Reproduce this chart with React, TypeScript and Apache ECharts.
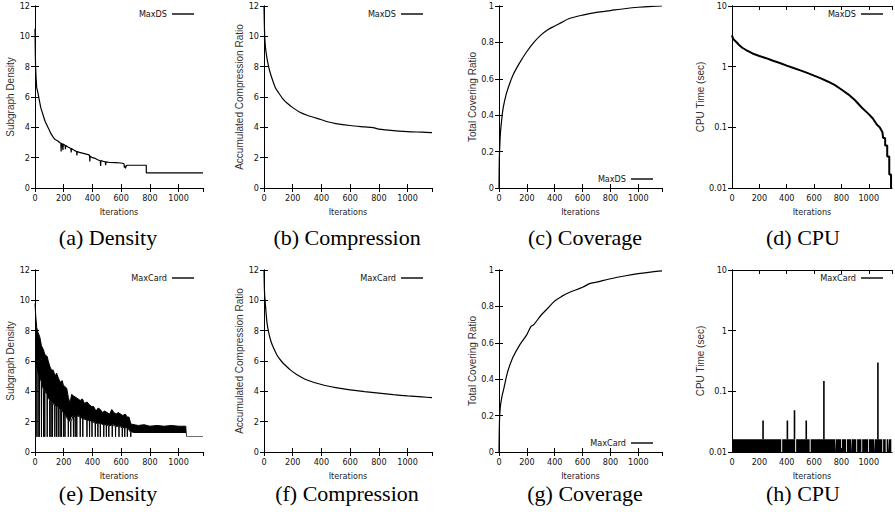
import React, { useEffect, useRef } from 'react';
import * as echarts from 'echarts';

const W = 895;
const H = 515;
const X_MAX = 1170;
const NARROW = '"Liberation Sans Narrow", "DejaVu Sans Condensed", "Liberation Sans", sans-serif';
const SANS = '"Liberation Sans", Arial, sans-serif';
const SERIF = '"Liberation Serif", "Times New Roman", serif';

// ---------- data ----------
const captions = ['(a) Density', '(b) Compression', '(c) Coverage', '(d) CPU', '(e) Density', '(f) Compression', '(g) Coverage', '(h) CPU'];
const yNames = ['Subgraph Density', 'Accumulated Compression Ratio', 'Total Covering Ratio', 'CPU Time (sec)'];
const xName = 'Iterations';
const seriesNames = ['MaxDS', 'MaxCard'];

// (a) density, MaxDS
const densityDS: number[][] = [
  [0, 10.5], [2, 9], [4, 8], [8, 7.2], [12, 6.6], [20, 6.3], [30, 5.8], [40, 5.3], [50, 5.0], [60, 4.7],
  [70, 4.4], [80, 4.2], [90, 4.0], [100, 3.8], [110, 3.6], [120, 3.45], [130, 3.3], [140, 3.2], [150, 3.15],
  [160, 3.1], [170, 3.0], [180, 2.95], [182, 2.4], [184, 2.95], [190, 2.9], [195, 2.5], [197, 2.9], [210, 2.8],
  [212, 2.55], [214, 2.8], [230, 2.7], [250, 2.6], [252, 2.35], [254, 2.6], [270, 2.5], [290, 2.4], [292, 2.15],
  [294, 2.4], [310, 2.35], [330, 2.3], [350, 2.25], [370, 2.2], [380, 2.15], [382, 1.75], [384, 2.1], [400, 2.0],
  [420, 1.95], [440, 1.85], [455, 1.8], [457, 1.45], [459, 1.8], [480, 1.75], [490, 1.72], [492, 1.5], [494, 1.72],
  [520, 1.68], [560, 1.67], [600, 1.65], [620, 1.6], [622, 1.35], [625, 1.45], [630, 1.3], [635, 1.45], [640, 1.5],
  [775, 1.5], [775, 1.0], [1170, 1.0],
];

// (b) compression, MaxDS
const compressionDS: number[][] = [
  [0, 12], [2, 11], [5, 10], [10, 9.3], [20, 8.6], [30, 8.1], [40, 7.7], [60, 7.1], [80, 6.6], [100, 6.3],
  [130, 5.9], [160, 5.6], [200, 5.3], [250, 5.0], [300, 4.8], [350, 4.65], [400, 4.5], [450, 4.35], [500, 4.25],
  [600, 4.12], [700, 4.03], [760, 3.98], [800, 3.88], [900, 3.78], [1000, 3.72], [1100, 3.68], [1170, 3.65],
];

// (c) coverage, MaxDS
const coverageDS: number[][] = [
  [0, 0], [2, 0.15], [5, 0.22], [10, 0.3], [20, 0.38], [30, 0.44], [50, 0.51], [75, 0.57], [100, 0.62],
  [150, 0.69], [200, 0.75], [250, 0.8], [300, 0.84], [350, 0.87], [400, 0.89], [450, 0.91], [500, 0.93],
  [600, 0.95], [700, 0.965], [800, 0.975], [900, 0.985], [1000, 0.993], [1100, 0.998], [1170, 1.0],
];

// (d) cpu, MaxDS
const cpuDS: number[][] = [
  [0, 3.3], [5, 3.0], [10, 2.85], [20, 2.7], [35, 2.5], [50, 2.3], [75, 2.05], [100, 1.9], [150, 1.65],
  [200, 1.5], [250, 1.38], [300, 1.25], [350, 1.15], [400, 1.04], [450, 0.95], [500, 0.87], [550, 0.79],
  [600, 0.71], [650, 0.64], [700, 0.57], [750, 0.5], [800, 0.42], [850, 0.35], [900, 0.28], [950, 0.21],
  [1000, 0.165], [1030, 0.14], [1060, 0.11], [1080, 0.1], [1100, 0.083], [1105, 0.067], [1120, 0.067],
  [1120, 0.05], [1135, 0.05], [1135, 0.033], [1150, 0.033], [1150, 0.0167], [1163, 0.0167], [1163, 0.01],
];

// (e) density, MaxCard: dense band between a lower and upper envelope, plus drops to 1
const densityCardX = [0, 5, 12, 20, 33, 45, 56, 70, 85, 92, 105, 115, 127, 140, 150, 162, 175, 190, 197, 210,
  221, 232, 244, 255, 268, 285, 300, 315, 330, 345, 362, 380, 395, 408, 425, 440, 455, 470, 485, 502,
  520, 535, 549, 565, 580, 596, 612, 628, 643, 655, 667, 690, 720, 760, 800, 850, 900, 950, 1000, 1030,
  1050, 1054, 1170];
const densityCardHigh = [9.8, 9.0, 8.2, 7.9, 7.6, 7.0, 6.8, 6.4, 6.3, 6.0, 5.6, 5.4, 5.4, 5.0, 5.2, 4.9, 4.6, 4.7, 4.4, 4.3,
  4.2, 3.6, 3.2, 3.8, 3.7, 3.6, 3.5, 3.4, 3.5, 3.2, 3.3, 3.1, 3.0, 3.0, 2.7, 2.9, 2.8, 2.6, 2.7, 2.6,
  2.5, 2.8, 2.6, 2.5, 2.6, 2.5, 2.4, 2.5, 2.3, 2.3, 1.85, 1.8, 1.75, 1.8, 1.7, 1.75, 1.7, 1.75, 1.7, 1.7,
  1.7, 1.0, 1.0];
const densityCardLow = [7.0, 6.0, 5.5, 5.2, 5.0, 4.6, 4.2, 4.0, 3.8, 3.6, 3.4, 3.3, 3.2, 3.1, 3.0, 3.0, 2.8, 2.7, 2.6, 2.5,
  2.3, 2.1, 2.0, 2.3, 2.4, 2.3, 2.4, 2.3, 2.2, 2.2, 2.1, 2.1, 2.0, 2.0, 1.9, 1.9, 1.9, 1.8, 1.8, 1.8,
  1.7, 1.8, 1.8, 1.7, 1.7, 1.7, 1.6, 1.6, 1.6, 1.5, 1.3, 1.25, 1.25, 1.25, 1.25, 1.25, 1.25, 1.25, 1.25, 1.25,
  1.25, 1.0, 1.0];
const densityCardDropX = [8, 21, 30, 45, 60, 68, 85, 103, 112, 122, 138, 150, 162, 175, 185, 200, 209, 232, 249, 268,
  280, 291, 315, 333, 362, 380, 397, 420, 438, 455, 479, 497, 514, 538, 561, 585, 608, 625, 643, 667];
const densityCardDropTop = [6.5, 5.3, 5.1, 4.6, 4.1, 4.0, 3.8, 3.4, 3.3, 3.2, 3.1, 3.0, 3.0, 2.8, 2.7, 2.6, 2.5, 2.1, 2.0, 2.4,
  2.3, 2.4, 2.3, 2.2, 2.1, 2.1, 2.0, 1.9, 1.9, 1.9, 1.8, 1.8, 1.7, 1.8, 1.7, 1.7, 1.6, 1.6, 1.6, 1.3];
const densityCardFloor = 1.0;

// (f) compression, MaxCard
const compressionCard: number[][] = [
  [0, 12], [2, 11], [5, 10.3], [10, 9.7], [20, 8.6], [30, 8.0], [45, 7.4], [60, 7.0], [90, 6.4], [120, 6.0],
  [150, 5.7], [185, 5.4], [230, 5.1], [300, 4.75], [400, 4.45], [500, 4.25], [600, 4.1], [700, 3.98],
  [800, 3.88], [900, 3.78], [1000, 3.7], [1100, 3.63], [1170, 3.58],
];

// (g) coverage, MaxCard
const coverageCard: number[][] = [
  [0, 0], [2, 0.12], [5, 0.2], [10, 0.25], [20, 0.3], [35, 0.35], [55, 0.42], [70, 0.46], [100, 0.52],
  [150, 0.59], [200, 0.645], [230, 0.69], [250, 0.7], [300, 0.75], [350, 0.79], [400, 0.83], [450, 0.855],
  [500, 0.875], [600, 0.905], [650, 0.925], [700, 0.933], [800, 0.952], [900, 0.967], [1000, 0.98],
  [1100, 0.99], [1170, 0.995],
];

// (h) cpu, MaxCard: mostly at the timer floor, with gaps and a few spikes
const cpuCardBandTop = 0.0162;
const cpuCardBandEnd = 1165;
const cpuCardMin = 0.01;
const cpuCardGaps: number[][] = [
  [360, 367], [462, 469], [568, 575], [756, 761], [798, 804], [835, 841], [872, 877], [909, 915],
  [946, 952], [996, 1002], [1040, 1045], [1099, 1105], [1124, 1131], [1144, 1149],
];
const cpuCardSpikes: number[][] = [
  [227, 0.033], [405, 0.033], [457, 0.049], [543, 0.033], [672, 0.148], [1067, 0.3],
];

// ---------- layout ----------
type Panel = {
  left: number; top: number; width: number; height: number;
  kind: 'density' | 'compression' | 'coverage' | 'cpu';
  legend: 'top' | 'bottom'; nameGap: number; capX: number; capY: number; name: string;
};
const colLeft = [35, 264, 499, 732];
const colWidth = [168, 168, 163, 160];
const rowTop = [6, 270];
const capYs = [237, 493];
const capXs = [108, 347, 585, 803];
const kinds: Panel['kind'][] = ['density', 'compression', 'coverage', 'cpu'];
const nameGaps = [16, 16, 21, 24];
const panels: Panel[] = [];
for (let r = 0; r < 2; r++) {
  for (let c = 0; c < 4; c++) {
    panels.push({
      left: colLeft[c], top: rowTop[r], width: colWidth[c], height: 182,
      kind: kinds[c], legend: c === 2 ? 'bottom' : 'top', nameGap: nameGaps[c],
      capX: capXs[c], capY: capYs[r], name: seriesNames[r],
    });
  }
}

function buildCpuBand(): number[][] {
  const top = cpuCardBandTop;
  const pts: number[][] = [[0, top]];
  for (const g of cpuCardGaps) pts.push([g[0], top], [g[0], cpuCardMin], [g[1], cpuCardMin], [g[1], top]);
  pts.push([cpuCardBandEnd, top], [cpuCardBandEnd, cpuCardMin], [X_MAX, cpuCardMin]);
  return pts;
}

function buildCpuSpikes(): (number[] | string)[] {
  const pts: (number[] | string)[] = [];
  for (const s of cpuCardSpikes) pts.push([s[0], cpuCardBandTop], [s[0], s[1]], '-');
  return pts;
}

function buildDrops(): number[][] {
  const pts: number[][] = [];
  densityCardDropX.forEach((x, i) => {
    pts.push([x - 1.5, densityCardDropTop[i]], [x, densityCardFloor], [x + 1.5, densityCardDropTop[i]]);
  });
  return pts;
}

function buildOption() {
  const grid: any[] = [];
  const xAxis: any[] = [];
  const yAxis: any[] = [];
  const legend: any[] = [];
  const series: any[] = [];
  const graphic: any[] = [];

  const line = { lineStyle: { color: '#000', width: 1 } };
  const tick = { inside: true, length: 4, lineStyle: { color: '#000', width: 1 } };
  const lbl = { fontFamily: NARROW, fontSize: 9, color: '#111', margin: 5 };

  panels.forEach((p, i) => {
    grid.push({ left: p.left, top: p.top, width: p.width, height: p.height });
    const xBase = {
      gridIndex: i, type: 'value', min: 0, max: X_MAX, interval: 200,
      axisLine: line, axisTick: tick, splitLine: { show: false }, z: 5,
    };
    xAxis.push({
      ...xBase, position: 'bottom',
      axisLabel: { ...lbl, showMaxLabel: false, formatter: (v: number) => String(v) },
      name: xName, nameLocation: 'middle', nameGap: 19,
      nameTextStyle: { fontFamily: NARROW, fontSize: 9, color: '#222', lineHeight: 10 },
    });
    xAxis.push({ ...xBase, position: 'top', axisLabel: { show: false } });

    let yBase: any;
    if (p.kind === 'cpu') {
      yBase = { type: 'log', logBase: 10, min: 0.01, max: 10 };
    } else if (p.kind === 'coverage') {
      yBase = { type: 'value', min: 0, max: 1, interval: 0.2 };
    } else {
      yBase = { type: 'value', min: 0, max: 12, interval: 2 };
    }
    yBase = { ...yBase, gridIndex: i, axisLine: line, axisTick: tick, splitLine: { show: false }, z: 5 };
    yAxis.push({
      ...yBase, position: 'left',
      axisLabel: { ...lbl, formatter: (v: number) => String(+v.toPrecision(6)) },
      name: yNames[i % 4], nameLocation: 'middle', nameRotate: 90, nameGap: p.nameGap,
      nameTextStyle: { fontFamily: SANS, fontSize: 10, color: '#333' },
    });
    yAxis.push({ ...yBase, position: 'right', axisLabel: { show: false } });

    const legCenter = p.legend === 'top' ? p.top + 9 : p.top + p.height - 8;
    legend.push({
      data: [p.name], right: W - (p.left + p.width - 9), top: legCenter - 5.5,
      align: 'right', itemWidth: 22, itemHeight: 1.4, icon: 'rect', padding: 0,
      selectedMode: false, itemStyle: { color: '#000' }, z: 10,
      textStyle: { fontFamily: NARROW, fontSize: 9, color: '#111' },
    });

    graphic.push({
      type: 'text', x: p.capX, y: p.capY,
      style: {
        text: captions[i], fontFamily: SERIF, fontSize: 22, lineHeight: 17, fill: '#000',
        align: 'center', verticalAlign: 'middle',
      },
    });
  });

  const base = (i: number) => ({
    type: 'line', xAxisIndex: 2 * i, yAxisIndex: 2 * i, symbol: 'none', showSymbol: false,
    color: '#000', itemStyle: { color: '#000' },
  });

  series.push({ ...base(0), name: 'MaxDS', data: densityDS, lineStyle: { color: '#000', width: 1.2 } });
  series.push({ ...base(1), name: 'MaxDS', data: compressionDS, smooth: 0.3, lineStyle: { color: '#000', width: 1.2 } });
  series.push({ ...base(2), name: 'MaxDS', data: coverageDS, smooth: 0.3, lineStyle: { color: '#000', width: 1.2 } });
  series.push({ ...base(3), name: 'MaxDS', data: cpuDS, lineStyle: { color: '#000', width: 2 } });

  // (e): black area under the upper envelope, white area under the lower envelope, then drops to 1
  series.push({
    ...base(4), name: 'MaxCard', z: 2, data: densityCardX.map((x, k) => [x, densityCardHigh[k]]),
    lineStyle: { color: '#000', width: 1 }, areaStyle: { color: '#000', opacity: 1, origin: 'start' },
  });
  series.push({
    ...base(4), name: 'lowEnvelope', z: 3, color: '#fff', itemStyle: { color: '#fff' },
    data: densityCardX.map((x, k) => [x, densityCardLow[k]]),
    lineStyle: { width: 0, opacity: 0 }, areaStyle: { color: '#fff', opacity: 1, origin: 'start' },
  });
  series.push({ ...base(4), name: 'MaxCard', z: 4, data: buildDrops(), lineStyle: { color: '#000', width: 1 } });

  series.push({ ...base(5), name: 'MaxCard', data: compressionCard, smooth: 0.3, lineStyle: { color: '#000', width: 1.2 } });
  series.push({ ...base(6), name: 'MaxCard', data: coverageCard, smooth: 0.3, lineStyle: { color: '#000', width: 1.2 } });
  series.push({
    ...base(7), name: 'MaxCard', data: buildCpuBand(),
    lineStyle: { width: 0, opacity: 0 }, areaStyle: { color: '#000', opacity: 1, origin: 'start' },
  });
  series.push({
    ...base(7), name: 'MaxCard', data: buildCpuSpikes(), connectNulls: false,
    lineStyle: { color: '#000', width: 1.6 },
  });

  return { animation: false, backgroundColor: '#fff', grid, xAxis, yAxis, legend, series, graphic };
}

export default function App() {
  const ref = useRef<HTMLDivElement>(null);
  useEffect(() => {
    if (!ref.current) return;
    const chart = echarts.init(ref.current, null, { renderer: 'svg', width: W, height: H });
    chart.setOption(buildOption() as any);
    return () => chart.dispose();
  }, []);
  return <div ref={ref} style={{ position: 'fixed', left: 0, top: 0, width: W, height: H, background: '#fff' }} />;
}
